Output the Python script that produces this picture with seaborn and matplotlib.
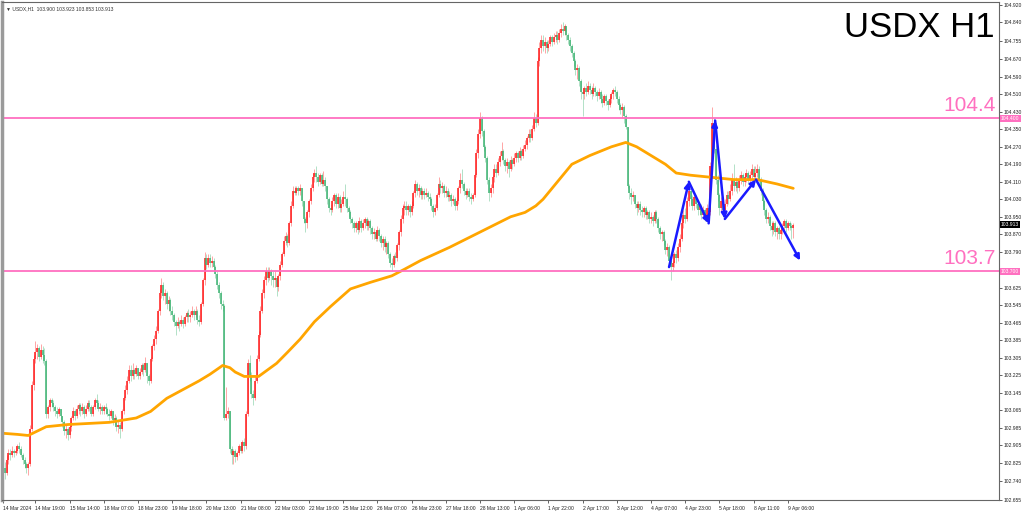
import numpy as np
import pandas as pd
import matplotlib
matplotlib.use("Agg")
import matplotlib.pyplot as plt
import matplotlib.transforms as mtransforms
import seaborn as sns

# USDX H1 candles, 14 Mar - 9 Apr 2024 (one value per bar)
close = [
    102.80, 102.78, 102.84, 102.87, 102.86, 102.88, 102.87, 102.88, 102.90, 102.89,
    102.86, 102.84, 102.82, 102.80, 102.82, 102.98, 103.18, 103.30, 103.33, 103.35,
    103.31, 103.34, 103.32, 103.29, 103.05, 103.08, 103.11, 103.10, 103.08, 103.06,
    103.05, 103.07, 103.04, 103.01, 102.97, 102.98, 102.95, 102.99, 103.03, 103.06,
    103.04, 103.07, 103.09, 103.06, 103.08, 103.05, 103.07, 103.10, 103.08, 103.05,
    103.08, 103.11, 103.10, 103.07, 103.08, 103.06, 103.08, 103.07, 103.05, 103.04,
    103.06, 103.02, 103.03, 102.99, 103.00, 102.98, 103.06, 103.12, 103.16, 103.20,
    103.25, 103.22, 103.25, 103.23, 103.26, 103.22, 103.24, 103.27, 103.25, 103.28,
    103.22, 103.20, 103.30, 103.36, 103.39, 103.43, 103.52, 103.60, 103.64, 103.59,
    103.60, 103.55, 103.57, 103.52, 103.50, 103.47, 103.45, 103.47, 103.46, 103.48,
    103.46, 103.49, 103.51, 103.49, 103.50, 103.52, 103.50, 103.52, 103.48, 103.47,
    103.55, 103.66, 103.76, 103.73, 103.76, 103.74, 103.75, 103.72, 103.69, 103.64,
    103.60, 103.55, 103.54, 103.03, 103.05, 103.06, 102.89, 102.86, 102.88, 102.85,
    102.87, 102.90, 102.88, 102.92, 102.90, 103.05, 103.28, 103.22, 103.14, 103.12,
    103.20, 103.30, 103.41, 103.52, 103.60, 103.66, 103.70, 103.67, 103.70, 103.68,
    103.66, 103.67, 103.63, 103.68, 103.73, 103.78, 103.84, 103.86, 103.83, 103.92,
    104.00, 104.07, 104.06, 104.08, 104.07, 104.08, 104.02, 103.94, 103.92, 103.97,
    104.02, 104.08, 104.13, 104.15, 104.13, 104.11, 104.14, 104.10, 104.12, 104.09,
    104.03, 103.99, 103.98, 104.02, 104.05, 104.01, 104.04, 103.99, 104.01, 104.04,
    104.03, 103.99, 103.97, 103.94, 103.92, 103.90, 103.92, 103.89, 103.93, 103.90,
    103.92, 103.94, 103.91, 103.93, 103.90, 103.87, 103.88, 103.85, 103.89, 103.86,
    103.83, 103.85, 103.81, 103.83, 103.78, 103.74, 103.73, 103.77, 103.76, 103.82,
    103.88, 103.94, 103.99, 104.00, 103.98, 104.00, 103.97, 104.00, 104.06, 104.10,
    104.07, 104.08, 104.05, 104.07, 104.05, 104.06, 104.04, 104.03, 104.00, 103.97,
    103.99, 104.05, 104.10, 104.08, 104.09, 104.06, 104.07, 104.04, 104.05, 104.02,
    104.03, 104.00, 104.02, 104.08, 104.12, 104.10, 104.07, 104.05, 104.07, 104.04,
    104.03, 104.05, 104.14, 104.24, 104.33, 104.40, 104.34, 104.27, 104.22, 104.12,
    104.06, 104.08, 104.13, 104.17, 104.15, 104.20, 104.23, 104.25, 104.21, 104.18,
    104.20, 104.17, 104.21, 104.19, 104.22, 104.24, 104.22, 104.25, 104.23, 104.26,
    104.28, 104.31, 104.33, 104.31, 104.35, 104.40, 104.38, 104.66, 104.72, 104.76,
    104.73, 104.75, 104.72, 104.74, 104.77, 104.75, 104.77, 104.78, 104.76, 104.79,
    104.81, 104.80, 104.82, 104.78, 104.76, 104.73, 104.70, 104.66, 104.62, 104.63,
    104.57, 104.52, 104.51, 104.54, 104.52, 104.55, 104.53, 104.51, 104.54, 104.52,
    104.50, 104.52, 104.49, 104.47, 104.50, 104.48, 104.46, 104.49, 104.51, 104.53,
    104.52, 104.49, 104.46, 104.44, 104.45, 104.41, 104.36, 104.09, 104.06, 104.04,
    104.05, 104.01, 103.99, 104.01, 103.98, 103.97, 103.99, 103.96, 103.97, 103.94,
    103.95, 103.93, 103.97, 103.94, 103.90, 103.87, 103.88, 103.84, 103.80, 103.81,
    103.75, 103.72, 103.74, 103.78, 103.76, 103.81, 103.85, 103.92, 103.96, 103.94,
    104.02, 104.07, 104.03, 104.00, 104.04, 104.01, 103.98, 104.00, 103.96, 103.98,
    103.95, 103.99, 103.97, 104.18, 104.38, 104.26, 104.12, 104.05, 103.99, 104.02,
    103.98, 104.01, 104.05, 104.03, 104.07, 104.12, 104.09, 104.11, 104.08, 104.12,
    104.14, 104.11, 104.13, 104.15, 104.12, 104.14, 104.17, 104.13, 104.15, 104.17,
    104.12, 104.07, 104.02, 103.98, 103.94, 103.95, 103.91, 103.89, 103.92, 103.88,
    103.90, 103.87, 103.89, 103.91, 103.93, 103.90, 103.92, 103.91, 103.90, 103.913,
]
high = [
    102.86, 102.83, 102.86, 102.89, 102.89, 102.90, 102.89, 102.90, 102.91, 102.92,
    102.90, 102.87, 102.85, 102.83, 102.83, 103.00, 103.20, 103.32, 103.38, 103.37,
    103.36, 103.37, 103.36, 103.35, 103.30, 103.09, 103.12, 103.12, 103.11, 103.09,
    103.08, 103.08, 103.07, 103.04, 103.02, 103.00, 102.99, 103.00, 103.04, 103.08,
    103.07, 103.09, 103.10, 103.10, 103.10, 103.09, 103.09, 103.11, 103.11, 103.09,
    103.09, 103.12, 103.14, 103.11, 103.10, 103.09, 103.09, 103.10, 103.08, 103.07,
    103.07, 103.06, 103.05, 103.04, 103.02, 103.01, 103.07, 103.13, 103.18, 103.22,
    103.27, 103.27, 103.28, 103.26, 103.27, 103.26, 103.26, 103.28, 103.28, 103.31,
    103.28, 103.23, 103.31, 103.37, 103.41, 103.45, 103.53, 103.62, 103.67, 103.65,
    103.62, 103.61, 103.59, 103.58, 103.54, 103.51, 103.48, 103.49, 103.48, 103.50,
    103.49, 103.50, 103.52, 103.53, 103.52, 103.54, 103.53, 103.54, 103.53, 103.50,
    103.56, 103.67, 103.79, 103.78, 103.78, 103.78, 103.77, 103.76, 103.73, 103.70,
    103.65, 103.61, 103.57, 103.55, 103.17, 103.08, 103.05, 102.90, 102.89, 102.89,
    102.88, 102.91, 102.92, 102.93, 102.94, 103.06, 103.30, 103.32, 103.24, 103.16,
    103.22, 103.32, 103.43, 103.54, 103.62, 103.68, 103.72, 103.72, 103.72, 103.71,
    103.70, 103.70, 103.68, 103.69, 103.75, 103.79, 103.86, 103.88, 103.87, 103.93,
    104.02, 104.09, 104.09, 104.09, 104.09, 104.10, 104.08, 104.02, 103.95, 103.98,
    104.03, 104.10, 104.15, 104.17, 104.18, 104.15, 104.15, 104.15, 104.16, 104.13,
    104.09, 104.04, 104.01, 104.04, 104.06, 104.06, 104.06, 104.05, 104.03, 104.07,
    104.10, 104.04, 104.00, 103.98, 103.95, 103.93, 103.93, 103.93, 103.95, 103.94,
    103.94, 103.95, 103.95, 103.94, 103.94, 103.91, 103.90, 103.89, 103.91, 103.90,
    103.87, 103.86, 103.86, 103.84, 103.84, 103.79, 103.76, 103.78, 103.79, 103.83,
    103.89, 103.96, 104.01, 104.02, 104.02, 104.01, 104.01, 104.02, 104.07, 104.12,
    104.11, 104.10, 104.09, 104.08, 104.08, 104.08, 104.07, 104.06, 104.04, 104.01,
    104.01, 104.06, 104.13, 104.12, 104.11, 104.10, 104.09, 104.08, 104.07, 104.06,
    104.05, 104.04, 104.03, 104.09, 104.15, 104.17, 104.11, 104.08, 104.08, 104.08,
    104.06, 104.06, 104.15, 104.26, 104.35, 104.43, 104.41, 104.35, 104.28, 104.23,
    104.13, 104.10, 104.14, 104.19, 104.19, 104.22, 104.25, 104.29, 104.26, 104.22,
    104.22, 104.21, 104.23, 104.22, 104.24, 104.25, 104.25, 104.27, 104.26, 104.28,
    104.30, 104.32, 104.35, 104.35, 104.37, 104.43, 104.42, 104.68, 104.75, 104.78,
    104.78, 104.77, 104.76, 104.76, 104.78, 104.78, 104.79, 104.80, 104.80, 104.81,
    104.83, 104.84, 104.83, 104.82, 104.79, 104.77, 104.74, 104.71, 104.67, 104.65,
    104.64, 104.58, 104.54, 104.55, 104.56, 104.57, 104.56, 104.55, 104.56, 104.55,
    104.53, 104.54, 104.53, 104.51, 104.51, 104.51, 104.49, 104.50, 104.52, 104.54,
    104.55, 104.53, 104.50, 104.47, 104.47, 104.46, 104.42, 104.34, 104.10, 104.08,
    104.07, 104.05, 104.02, 104.02, 104.02, 104.00, 104.00, 104.00, 103.98, 103.98,
    103.97, 103.96, 103.98, 103.98, 103.95, 103.91, 103.89, 103.89, 103.85, 103.83,
    103.82, 103.76, 103.75, 103.79, 103.80, 103.83, 103.87, 103.94, 103.98, 103.99,
    104.04, 104.09, 104.09, 104.05, 104.05, 104.05, 104.02, 104.01, 104.01, 104.00,
    103.99, 104.01, 104.02, 104.20, 104.45, 104.40, 104.28, 104.14, 104.06, 104.04,
    104.03, 104.03, 104.07, 104.07, 104.10, 104.15, 104.19, 104.13, 104.12, 104.14,
    104.16, 104.15, 104.15, 104.17, 104.16, 104.16, 104.19, 104.18, 104.18, 104.19,
    104.18, 104.13, 104.08, 104.03, 103.99, 103.97, 103.96, 103.93, 103.93, 103.93,
    103.91, 103.91, 103.90, 103.92, 103.94, 103.94, 103.93, 103.93, 103.92, 103.923,
]
low = [
    102.74, 102.75, 102.77, 102.82, 102.84, 102.85, 102.85, 102.86, 102.87, 102.87,
    102.85, 102.82, 102.80, 102.78, 102.77, 102.81, 102.97, 103.16, 103.28, 103.30,
    103.29, 103.30, 103.28, 103.27, 103.03, 103.03, 103.06, 103.08, 103.06, 103.04,
    103.03, 103.04, 103.02, 102.99, 102.95, 102.94, 102.93, 102.94, 102.97, 103.02,
    103.02, 103.03, 103.05, 103.04, 103.05, 103.03, 103.04, 103.06, 103.06, 103.04,
    103.04, 103.07, 103.08, 103.06, 103.05, 103.05, 103.05, 103.05, 103.04, 103.02,
    103.03, 103.00, 103.00, 102.97, 102.96, 102.94, 102.97, 103.05, 103.11, 103.14,
    103.19, 103.20, 103.21, 103.21, 103.22, 103.21, 103.21, 103.23, 103.22, 103.24,
    103.19, 103.18, 103.19, 103.29, 103.34, 103.37, 103.42, 103.50, 103.58, 103.57,
    103.55, 103.53, 103.52, 103.50, 103.48, 103.45, 103.41, 103.44, 103.43, 103.45,
    103.44, 103.45, 103.47, 103.47, 103.47, 103.49, 103.48, 103.49, 103.46, 103.45,
    103.46, 103.54, 103.64, 103.71, 103.72, 103.72, 103.72, 103.70, 103.67, 103.62,
    103.58, 103.53, 103.52, 103.02, 103.02, 103.03, 102.87, 102.82, 102.82, 102.83,
    102.84, 102.86, 102.87, 102.87, 102.88, 102.89, 103.04, 103.20, 103.12, 103.09,
    103.11, 103.19, 103.29, 103.40, 103.51, 103.58, 103.64, 103.65, 103.66, 103.64,
    103.63, 103.63, 103.59, 103.61, 103.66, 103.72, 103.77, 103.82, 103.81, 103.82,
    103.91, 103.99, 104.05, 104.05, 104.05, 104.05, 104.00, 103.92, 103.88, 103.90,
    103.95, 104.01, 104.07, 104.11, 104.11, 104.09, 104.10, 104.09, 104.09, 104.07,
    104.01, 103.97, 103.96, 103.97, 104.00, 103.99, 103.99, 103.97, 103.97, 104.00,
    104.00, 103.97, 103.95, 103.92, 103.90, 103.88, 103.88, 103.87, 103.88, 103.88,
    103.89, 103.90, 103.89, 103.89, 103.87, 103.85, 103.85, 103.84, 103.84, 103.84,
    103.81, 103.80, 103.79, 103.78, 103.76, 103.72, 103.70, 103.72, 103.74, 103.75,
    103.80, 103.86, 103.92, 103.96, 103.96, 103.96, 103.95, 103.96, 103.99, 104.04,
    104.05, 104.04, 104.03, 104.03, 104.03, 104.04, 104.02, 104.01, 103.98, 103.95,
    103.96, 103.98, 104.04, 104.06, 104.06, 104.04, 104.04, 104.02, 104.02, 104.00,
    104.01, 103.98, 103.98, 104.01, 104.06, 104.08, 104.05, 104.03, 104.04, 104.02,
    104.01, 104.02, 104.04, 104.13, 104.22, 104.31, 104.32, 104.25, 104.20, 104.10,
    104.02, 104.04, 104.06, 104.11, 104.13, 104.14, 104.18, 104.21, 104.19, 104.16,
    104.15, 104.13, 104.16, 104.17, 104.18, 104.20, 104.20, 104.21, 104.21, 104.22,
    104.25, 104.26, 104.29, 104.29, 104.30, 104.34, 104.36, 104.37, 104.64, 104.70,
    104.71, 104.70, 104.70, 104.71, 104.73, 104.73, 104.74, 104.75, 104.74, 104.75,
    104.77, 104.78, 104.78, 104.76, 104.74, 104.71, 104.68, 104.64, 104.60, 104.58,
    104.55, 104.49, 104.41, 104.49, 104.50, 104.51, 104.51, 104.49, 104.50, 104.50,
    104.48, 104.49, 104.47, 104.45, 104.46, 104.46, 104.44, 104.45, 104.47, 104.49,
    104.50, 104.47, 104.44, 104.42, 104.40, 104.38, 104.35, 104.08, 104.03, 104.01,
    104.02, 103.99, 103.96, 103.97, 103.96, 103.95, 103.95, 103.94, 103.94, 103.92,
    103.92, 103.91, 103.92, 103.92, 103.88, 103.85, 103.84, 103.82, 103.78, 103.77,
    103.72, 103.66, 103.70, 103.72, 103.74, 103.75, 103.79, 103.84, 103.90, 103.92,
    103.93, 104.00, 104.01, 103.98, 103.98, 103.99, 103.96, 103.96, 103.94, 103.95,
    103.93, 103.94, 103.92, 103.96, 104.16, 104.24, 104.10, 104.02, 103.96, 103.97,
    103.95, 103.96, 104.00, 104.01, 104.02, 104.05, 104.07, 104.07, 104.06, 104.07,
    104.10, 104.09, 104.09, 104.11, 104.10, 104.10, 104.12, 104.11, 104.12, 104.13,
    104.10, 104.05, 104.00, 103.96, 103.92, 103.92, 103.89, 103.86, 103.87, 103.86,
    103.85, 103.85, 103.85, 103.87, 103.89, 103.88, 103.89, 103.89, 103.85, 103.853,
]
first_open = 102.82
last_bar = [103.900, 103.923, 103.853, 103.913]  # O H L C of the last candle

# moving average (orange line), read at a few bars
ma_bar = [0, 8, 14, 19, 24, 36, 59, 74, 82, 91, 100, 109, 115, 122, 126, 129, 134,
          142, 147, 152, 158, 165, 173, 182, 193, 204, 216, 223, 232, 248, 265, 282,
          290, 296, 300, 304, 308, 312, 316, 321, 326, 332, 338, 346, 352, 360, 368,
          374, 382, 394, 406, 419, 430, 439]
ma_val = [102.96, 102.955, 102.95, 102.97, 102.99, 103.00, 103.01, 103.03, 103.06,
          103.12, 103.16, 103.20, 103.23, 103.27, 103.26, 103.24, 103.22, 103.22,
          103.25, 103.28, 103.33, 103.39, 103.47, 103.54, 103.62, 103.65, 103.68,
          103.71, 103.75, 103.81, 103.88, 103.95, 103.97, 104.00, 104.03, 104.07,
          104.11, 104.15, 104.19, 104.21, 104.23, 104.25, 104.27, 104.29, 104.27,
          104.23, 104.19, 104.15, 104.14, 104.13, 104.12, 104.12, 104.10, 104.08]

# horizontal levels
levels = [104.40, 103.70]
level_text = ["104.4", "103.7"]

# blue zigzag pattern
zig_bar = [370, 381, 392, 395.6, 401, 418.3, 442.8]
zig_val = [103.72, 104.11, 103.92, 104.39, 103.94, 104.12, 103.75]

time_labels = ["14 Mar 2024", "14 Mar 19:00", "15 Mar 14:00", "18 Mar 07:00", "18 Mar 23:00",
               "19 Mar 18:00", "20 Mar 13:00", "21 Mar 08:00", "22 Mar 03:00", "22 Mar 19:00",
               "25 Mar 12:00", "26 Mar 07:00", "26 Mar 23:00", "27 Mar 18:00", "28 Mar 13:00",
               "1 Apr 06:00", "1 Apr 22:00", "2 Apr 17:00", "3 Apr 12:00", "4 Apr 07:00",
               "4 Apr 23:00", "5 Apr 18:00", "8 Apr 11:00", "9 Apr 06:00"]
time_ticks = [0] + [18 + 19 * k for k in range(23)]
price_ticks = [104.920, 104.840, 104.755, 104.670, 104.590, 104.510, 104.430, 104.350,
               104.270, 104.190, 104.110, 104.030, 103.950, 103.870, 103.790, 103.625,
               103.545, 103.465, 103.385, 103.305, 103.225, 103.145, 103.065, 102.985,
               102.905, 102.825, 102.740, 102.655]

sns.set_theme(style="white")
plt.rcParams['font.family'] = ['Liberation Sans', 'DejaVu Sans']

df = pd.DataFrame({'close': close, 'high': high, 'low': low})
df['open'] = df['close'].shift(1).fillna(first_open)
df.loc[len(df) - 1, 'open'] = last_bar[0]
df['high'] = df[['high', 'open', 'close']].max(axis=1)
df['low'] = df[['low', 'open', 'close']].min(axis=1)
df['bar'] = np.arange(len(df))
df['up'] = df['close'] >= df['open']

RED = '#ff1a1a'
GREEN = '#3cb371'
PINK = '#ff70c0'
BLUE = '#1a1aff'

fig = plt.figure(figsize=(10.24, 5.15), dpi=100)
ax = fig.add_axes([2 / 1024, 15 / 515, 997 / 1024, 498 / 515])

cols = np.where(df['up'], RED, GREEN)
ax.vlines(df['bar'], df['low'], df['high'], colors=cols, linewidth=0.5, alpha=0.55)
body_lo = np.minimum(df['open'], df['close'])
body_hi = np.maximum(np.maximum(df['open'], df['close']), body_lo + 0.003)
ax.vlines(df['bar'], body_lo, body_hi, colors=cols, linewidth=1.1)

sns.lineplot(x=ma_bar, y=ma_val, color='#ffa500', linewidth=2.0, ax=ax)

trans = mtransforms.blended_transform_factory(ax.transAxes, ax.transData)
for v, t in zip(levels, level_text):
    ax.axhline(v, color=PINK, linewidth=1.3)
    ax.text(0.997, v + 0.015, t, transform=trans, ha='right', va='bottom',
            color=PINK, fontsize=15)

for i in range(len(zig_bar) - 1):
    ax.annotate('', xy=(zig_bar[i + 1], zig_val[i + 1]), xytext=(zig_bar[i], zig_val[i]),
                arrowprops=dict(arrowstyle='-|>', color=BLUE, lw=1.8, mutation_scale=8,
                                shrinkA=0, shrinkB=0))

ax.set_xlim(-0.56, 553.3)
ax.set_ylim(102.658, 104.932)

ax.yaxis.tick_right()
ax.set_yticks(price_ticks)
ax.set_yticklabels([f"{p:.3f}" for p in price_ticks])
ax.set_xticks(time_ticks)
ax.set_xticklabels(time_labels)
for lab in ax.get_xticklabels():
    lab.set_horizontalalignment('left')
ax.tick_params(axis='y', which='both', right=True, length=2, width=0.5, pad=1.5,
               labelsize=3.6, colors='#222222')
ax.tick_params(axis='x', which='both', bottom=True, length=2, width=0.5, pad=2,
               labelsize=3.6, colors='#222222')

for v, fc in [(104.400, PINK), (103.700, PINK), (last_bar[3], '#000000')]:
    ax.text(1.002, v, f"{v:.3f}", transform=trans, ha='left', va='center', fontsize=3.6,
            color='white', bbox=dict(facecolor=fc, edgecolor='none', pad=0.8))

ax.text(0.996, 0.982, 'USDX H1', transform=ax.transAxes, ha='right', va='top',
        fontsize=25, color='black')
ax.text(0.004, 0.992, '\u25bc USDX,H1  103.900 103.923 103.853 103.913',
        transform=ax.transAxes, ha='left', va='top', fontsize=3.6, color='#333333')

for s in ['top', 'right', 'bottom']:
    ax.spines[s].set_color('#666666')
    ax.spines[s].set_linewidth(0.8)
ax.spines['left'].set_color('#9a9a9a')
ax.spines['left'].set_linewidth(2.5)
ax.set_xlabel('')
ax.set_ylabel('')

fig.savefig('out.png', dpi=100)
